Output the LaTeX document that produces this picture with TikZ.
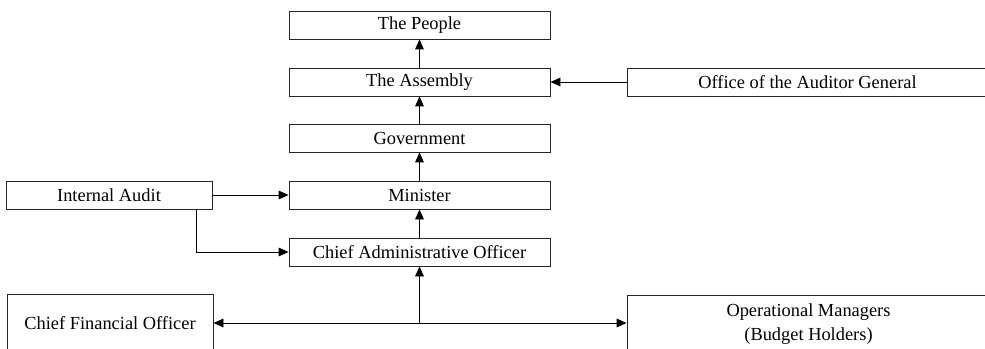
\documentclass[tikz,border=0pt]{standalone}
\usepackage{fontspec}
\setmainfont{Liberation Serif}
\usetikzlibrary{arrows.meta}

\tikzset{every picture/.style={line width=0.65pt}}
\tikzset{
  box/.style={draw=black!85, rectangle, inner sep=0.75pt, minimum height=21pt, font=\fontsize{13.8}{18}\selectfont, align=center},
  colbox/.style={box, minimum width=195.75pt},
  arr/.style={-{Triangle[length=7.5pt,width=6.5pt]}}
}

\begin{document}
\begin{tikzpicture}[x=0.75pt,y=0.75pt,yscale=-1,xscale=1]
\clip (0,0) rectangle (985,349);

%Shape: main column
\node [colbox] (people) at (419.5,25) {The People};
\node [colbox] (assembly) at (419.5,82) {The Assembly};
\node [colbox] (govt) at (419.5,138) {Government};
\node [colbox] (minister) at (419.5,195) {Minister};
\node [colbox] (cao) at (419.5,252) {Chief Administrative Officer};

%Shape: side boxes
\node [box, minimum width=154.5pt] (audit) at (109,195) {Internal Audit};
\node [box, minimum width=270.75pt] (oag) at (807.5,82) {Office of the Auditor General};
\node [box, minimum width=154.5pt, minimum height=43.5pt] (cfo) at (110,323) {Chief Financial Officer};
\node [box, minimum width=272.25pt, minimum height=43.5pt] (ops) at (808.5,324) {Operational Managers\\(Budget Holders)};

%Straight Lines
\draw [arr] (assembly) -- (people);
\draw [arr] (govt) -- (assembly);
\draw [arr] (minister) -- (govt);
\draw [arr] (cao) -- (minister);
\draw [arr] (oag) -- (assembly);
\draw [arr] (audit) -- (minister);
\coordinate (auditfoot) at ([xshift=-12pt]audit.south east);
\draw [arr] (auditfoot) |- (cao.west);

%Straight Lines
\draw [{Triangle[length=7.5pt,width=6.5pt]}-{Triangle[length=7.5pt,width=6.5pt]}] (cfo.east) -- (cfo.east -| ops.west);
\coordinate (split) at (cfo.east -| cao.south);
\draw [arr] (split) -- (cao.south);

\end{tikzpicture}
\end{document}
